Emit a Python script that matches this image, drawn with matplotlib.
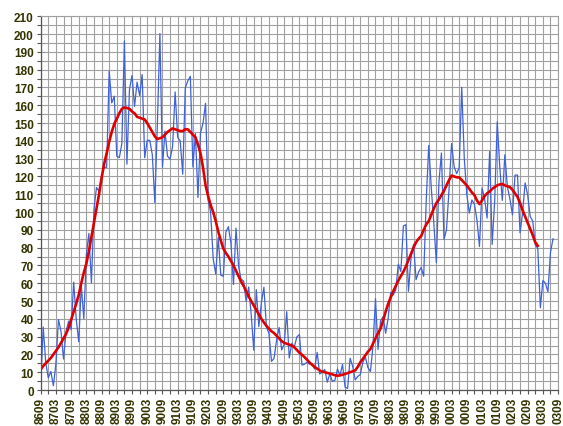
import numpy as np
import matplotlib.pyplot as plt
from matplotlib.ticker import MultipleLocator

# monthly sunspot numbers, 8609 .. 0307
monthly = [
    3.8, 35.4, 15.2, 6.8,
    10.4, 2.4, 14.7, 39.6, 33.0, 17.4, 33.0, 38.7, 33.9, 60.6, 39.9, 27.1,
    59.0, 40.0, 76.2, 88.0, 60.1, 101.8, 113.8, 111.6, 120.1, 125.1, 125.1, 179.2,
    161.3, 165.1, 131.4, 130.6, 138.5, 196.2, 126.9, 168.9, 176.7, 159.4, 173.0, 165.5,
    177.3, 130.5, 140.3, 140.3, 132.2, 105.4, 149.4, 200.3, 125.2, 145.5, 131.4, 129.7,
    136.9, 167.5, 141.9, 140.0, 121.3, 169.7, 173.7, 176.3, 125.3, 144.1, 108.2, 144.4,
    150.0, 161.1, 106.7, 99.8, 73.8, 65.2, 85.7, 64.5, 63.9, 88.7, 91.8, 82.6,
    59.3, 91.0, 69.8, 62.2, 61.3, 49.8, 57.9, 42.3, 22.4, 56.4, 35.6, 48.9,
    57.8, 35.5, 31.7, 16.1, 17.8, 28.0, 35.1, 22.5, 25.7, 44.0, 18.0, 26.2,
    24.2, 29.9, 31.1, 14.0, 14.5, 15.6, 14.5, 14.3, 11.8, 21.1, 9.0, 10.0,
    11.5, 4.4, 9.2, 4.8, 5.5, 11.8, 8.2, 14.4, 1.6, 0.9, 17.9, 13.3,
    5.7, 7.6, 8.7, 15.5, 18.5, 12.7, 10.4, 24.4, 51.3, 22.8, 39.0, 41.2,
    31.9, 40.3, 54.8, 53.4, 56.3, 70.7, 66.6, 92.2, 92.9, 55.5, 74.0, 81.9,
    62.0, 66.3, 68.9, 63.9, 106.4, 137.4, 113.5, 93.7, 71.5, 116.7, 133.2, 84.6,
    90.1, 112.9, 138.5, 125.5, 121.6, 124.9, 170.1, 130.5, 109.7, 99.4, 106.8, 104.4,
    95.6, 80.6, 113.5, 107.7, 96.6, 134.0, 81.8, 106.4, 150.7, 125.5, 106.5, 132.2,
    114.1, 107.4, 98.4, 120.7, 120.8, 88.3, 99.6, 116.4, 109.6, 97.5, 95.0, 81.6,
    79.5, 46.2, 61.5, 60.0, 55.2, 77.4, 85.0,
]

# smoothed curve, 8609 .. 0301
smoothed = [
    11.5, 13.5, 15.0, 16.5, 18.0, 20.0, 22.0, 24.0, 26.5, 29.0,
    31.5, 35.0, 39.5, 44.0, 48.5, 53.5, 60.0, 66.0, 71.0, 78.0,
    86.0, 94.0, 102.0, 110.0, 119.0, 127.0, 133.0, 139.5, 145.0, 149.5,
    152.5, 155.5, 158.0, 158.8, 158.5, 158.0, 156.5, 155.5, 153.5, 153.0,
    152.5, 152.0, 150.0, 147.5, 145.0, 142.5, 141.0, 141.5, 142.0, 143.5,
    145.0, 146.0, 147.0, 146.5, 146.0, 145.5, 145.5, 146.5, 146.5, 145.0,
    143.5, 142.0, 138.0, 133.0, 125.0, 115.0, 109.0, 104.0, 100.0, 95.0,
    89.0, 84.0, 79.5, 77.0, 75.0, 72.5, 70.0, 67.0, 64.0, 61.0,
    58.5, 55.5, 52.5, 50.0, 47.5, 45.0, 42.5, 40.0, 38.0, 36.0,
    34.5, 33.0, 32.0, 30.5, 29.0, 27.5, 26.5, 26.0, 25.5, 25.0,
    24.0, 22.5, 21.0, 19.8, 18.5, 17.0, 15.5, 14.2, 13.0, 12.0,
    11.0, 10.3, 10.0, 9.6, 9.2, 8.8, 8.3, 8.0, 8.2, 8.6,
    9.0, 9.5, 10.0, 10.5, 11.0, 13.0, 15.5, 17.5, 19.5, 21.5,
    23.0, 26.0, 29.0, 32.0, 34.5, 39.0, 44.0, 48.5, 52.0, 55.5,
    58.5, 61.5, 64.0, 66.5, 69.5, 73.0, 76.5, 80.0, 83.0, 85.0,
    86.5, 90.0, 93.0, 95.0, 98.5, 102.0, 105.0, 107.0, 109.5, 112.0,
    115.0, 118.0, 120.5, 120.0, 119.5, 119.5, 118.0, 116.5, 115.0, 113.0,
    111.0, 109.5, 106.5, 104.5, 106.5, 109.0, 110.5, 111.5, 113.0, 114.0,
    115.0, 115.5, 115.8, 115.0, 114.5, 114.0, 112.5, 110.5, 108.5, 105.0,
    101.0, 97.5, 94.0, 90.5, 87.0, 83.0, 81.0,
]

tick_labels = [
    "8609", "8703", "8709", "8803", "8809", "8903", "8909", "9003", "9009",
    "9103", "9109", "9203", "9209", "9303", "9309", "9403", "9409", "9503",
    "9509", "9603", "9609", "9703", "9709", "9803", "9809", "9903", "9909",
    "0003", "0009", "0103", "0109", "0203", "0209", "0303", "0309",
]

plt.rcParams["font.family"] = ["Liberation Sans", "DejaVu Sans"]

fig = plt.figure(figsize=(5.63, 4.27), dpi=100)
ax = fig.add_axes([0.0723, 0.0843, 0.919, 0.8752])

ax.plot(np.arange(len(monthly)), monthly, color="#4062d8", lw=0.9)
ax.plot(np.arange(len(smoothed)), smoothed, color="#dd0000", lw=1.9)

ax.set_xlim(0, 6 * (len(tick_labels) - 1))
ax.set_ylim(0, 210)

ax.set_xticks(np.arange(len(tick_labels)) * 6)
ax.set_xticklabels(tick_labels, rotation=90)
ax.xaxis.set_minor_locator(MultipleLocator(3))
ax.yaxis.set_major_locator(MultipleLocator(10))
ax.yaxis.set_minor_locator(MultipleLocator(5))

ax.grid(which="both", color="#a0a0a0", lw=0.8)
ax.set_axisbelow(True)

ax.tick_params(which="both", length=3, width=0.8, color="#555555", pad=2)
for lab in ax.get_xticklabels() + ax.get_yticklabels():
    lab.set_fontsize(8.5)
    lab.set_fontweight("bold")
    lab.set_color("#333300")

for side in ["top", "right"]:
    ax.spines[side].set_color("#a0a0a0")
    ax.spines[side].set_linewidth(0.8)
for side in ["left", "bottom"]:
    ax.spines[side].set_color("#555555")
    ax.spines[side].set_linewidth(0.9)

fig.savefig("out.png", dpi=100)
